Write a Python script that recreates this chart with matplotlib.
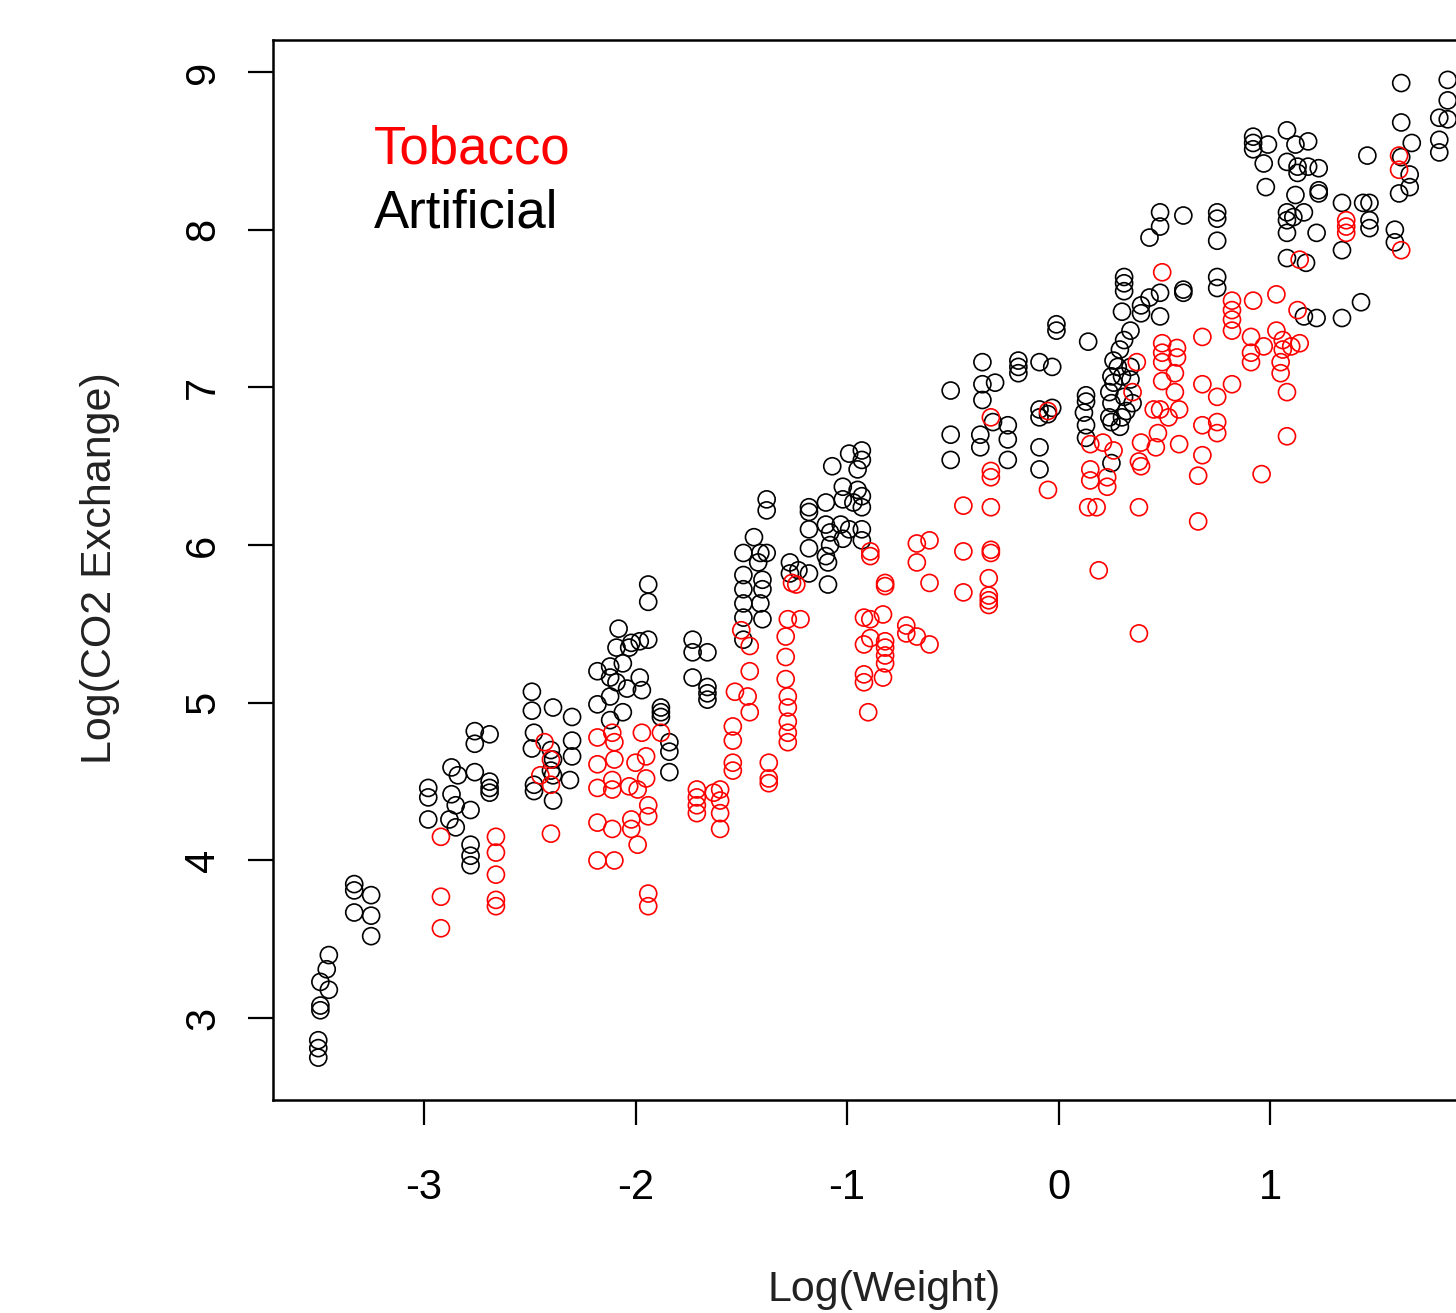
import matplotlib
matplotlib.use("Agg")
import matplotlib.pyplot as plt

plt.rcParams['font.family'] = ['Liberation Sans', 'DejaVu Sans']

# Artificial (black) points: log(weight), log(CO2 exchange)
art_x = [-3.45, -3.46, -3.49, -3.45, -3.49, -3.49, -3.50, -3.50, -3.50,
         -3.33, -3.33, -3.25, -3.33, -3.25, -3.25,
         -2.98, -2.98, -2.98, -2.87, -2.84, -2.76, -2.87, -2.85, -2.78, -2.88,
         -2.85, -2.69, -2.69, -2.69, -2.76, -2.69, -2.76, -2.78, -2.78, -2.78,
         -2.49, -2.49, -2.39, -2.30, -2.48, -2.49, -2.30, -2.30, -2.40, -2.39,
         -2.40, -2.39, -2.48, -2.48, -2.39, -2.31,
         -1.94, -1.94, -2.08, -2.09, -2.03, -2.02, -1.98, -1.94, -2.18, -2.12,
         -2.06, -2.12, -2.09, -1.98, -1.97, -2.04, -2.18, -2.12, -2.06, -2.12,
         -1.88, -1.88, -1.88, -1.84, -1.84, -1.84, -1.73, -1.66, -1.73, -1.73,
         -1.66, -1.66, -1.66,
         -1.49, -1.49, -1.49, -1.49, -1.49, -1.49, -1.44, -1.41, -1.38, -1.42,
         -1.40, -1.40, -1.41, -1.40, -1.38, -1.38,
         -1.07, -0.99, -0.93, -0.93, -0.95, -1.02, -0.95, -0.93, -1.18, -1.18,
         -1.10, -1.02, -0.97, -0.93, -1.18, -1.10, -1.08, -1.03, -0.99, -0.93,
         -1.18, -1.08, -1.02, -0.93, -1.10, -1.09, -1.09, -1.18, -1.27, -1.27,
         -1.23,
         -0.51, -0.51, -0.51, -0.36, -0.36, -0.36, -0.37, -0.37, -0.30, -0.31,
         -0.24, -0.24, -0.24, -0.19, -0.19, -0.19, -0.09, -0.03, -0.09, -0.09,
         -0.01, -0.01, -0.09, -0.09, -0.05, -0.03,
         0.13, 0.13, 0.12, 0.13, 0.13, 0.14, 0.26, 0.25, 0.30, 0.24,
         0.31, 0.25, 0.35, 0.32, 0.24, 0.30, 0.25, 0.29, 0.25, 0.34,
         0.26, 0.31, 0.31, 0.31, 0.43, 0.48, 0.39, 0.30, 0.39, 0.48,
         0.34, 0.31, 0.29, 0.28, 0.34, 0.59, 0.59,
         0.43, 0.48, 0.59, 0.48, 0.75, 0.75, 0.75, 0.75, 0.75, 1.43,
         1.34, 1.22, 1.16, 1.62, 1.84, 1.84, 1.80, 1.84, 1.80, 1.80,
         1.62, 1.67, 1.62, 1.66, 1.66, 1.61, 1.46, 0.92, 0.92, 0.92,
         0.99, 0.97, 1.08, 1.18, 1.12, 1.08, 1.13, 1.18, 1.23, 1.13,
         0.98, 1.12, 1.23, 1.23, 1.16, 1.08, 1.11, 1.08, 1.08, 1.22,
         1.34, 1.44, 1.47, 1.47, 1.47, 1.34, 1.59, 1.59, 1.08, 1.17]
art_y = [3.40, 3.31, 3.23, 3.18, 3.08, 3.05, 2.86, 2.81, 2.75,
         3.85, 3.81, 3.78, 3.67, 3.65, 3.52,
         4.46, 4.40, 4.26, 4.59, 4.54, 4.56, 4.42, 4.35, 4.32, 4.26,
         4.21, 4.50, 4.46, 4.43, 4.82, 4.80, 4.74, 4.10, 4.03, 3.97,
         5.07, 4.95, 4.97, 4.91, 4.81, 4.71, 4.76, 4.66, 4.70, 4.64,
         4.57, 4.54, 4.48, 4.44, 4.38, 4.51,
         5.75, 5.64, 5.47, 5.35, 5.35, 5.38, 5.39, 5.40, 5.20, 5.23,
         5.25, 5.16, 5.13, 5.16, 5.08, 5.09, 4.99, 5.04, 4.94, 4.89,
         4.97, 4.94, 4.91, 4.75, 4.69, 4.56, 5.40, 5.32, 5.32, 5.16,
         5.10, 5.06, 5.02,
         5.95, 5.81, 5.72, 5.63, 5.54, 5.40, 6.05, 5.95, 5.95, 5.89,
         5.78, 5.72, 5.63, 5.53, 6.29, 6.22,
         6.50, 6.58, 6.60, 6.54, 6.48, 6.37, 6.35, 6.31, 6.24, 6.21,
         6.27, 6.29, 6.27, 6.24, 6.10, 6.13, 6.08, 6.13, 6.10, 6.10,
         5.98, 6.00, 6.04, 6.03, 5.93, 5.89, 5.75, 5.82, 5.89, 5.82,
         5.84,
         6.98, 6.70, 6.54, 7.16, 7.02, 6.92, 6.70, 6.62, 7.03, 6.78,
         6.76, 6.67, 6.54, 7.17, 7.13, 7.09, 7.16, 7.13, 6.86, 6.81,
         7.36, 7.40, 6.62, 6.48, 6.83, 6.87,
         6.95, 6.91, 6.84, 6.76, 6.68, 7.29, 7.17, 7.07, 7.07, 6.97,
         6.94, 6.90, 6.90, 6.85, 6.81, 6.81, 6.78, 6.75, 6.52, 7.05,
         7.03, 7.70, 7.66, 7.61, 7.57, 7.60, 7.52, 7.48, 7.47, 7.45,
         7.36, 7.30, 7.24, 7.13, 7.13, 7.62, 7.60,
         7.95, 8.11, 8.09, 8.02, 8.11, 8.07, 7.93, 7.70, 7.63, 7.54,
         7.44, 7.44, 7.45, 8.93, 8.95, 8.82, 8.71, 8.70, 8.57, 8.49,
         8.68, 8.55, 8.46, 8.35, 8.27, 8.23, 8.47, 8.59, 8.55, 8.51,
         8.54, 8.42, 8.63, 8.56, 8.54, 8.43, 8.40, 8.40, 8.39, 8.36,
         8.27, 8.22, 8.25, 8.23, 8.11, 8.11, 8.08, 8.06, 7.98, 7.98,
         8.17, 8.17, 8.17, 8.06, 8.01, 7.87, 8.00, 7.92, 7.82, 7.79]

# Tobacco (red) points
tob_x = [-2.92, -2.92, -2.92, -2.66, -2.66, -2.66, -2.66, -2.66, -2.40, -2.43,
         -2.40, -2.45, -2.40,
         -2.18, -2.11, -2.10, -1.97, -1.88, -2.18, -2.10, -2.00, -1.95, -2.11,
         -2.18, -2.11, -2.03, -1.99, -1.95, -1.94, -1.94, -2.18, -2.11, -2.02,
         -2.02, -1.99, -2.18, -2.10, -1.94, -1.94,
         -1.71, -1.71, -1.71, -1.71, -1.60, -1.60, -1.60, -1.60, -1.63, -1.54,
         -1.54, -1.54, -1.54, -1.46, -1.46, -1.47, -1.53, -1.46, -1.37, -1.37,
         -1.37, -1.28, -1.22, -1.29, -1.29, -1.29, -1.28, -1.28, -1.28, -1.28,
         -1.28, -1.26, -1.24, -1.50,
         -0.89, -0.89, -0.82, -0.82, -0.92, -0.89, -0.83, -0.92, -0.89, -0.82,
         -0.82, -0.82, -0.82, -0.92, -0.92, -0.83, -0.90, -0.72, -0.72, -0.67,
         -0.61, -0.67, -0.61, -0.67, -0.61, -0.45, -0.45, -0.45, -0.32, -0.32,
         -0.32, -0.33, -0.33, -0.33, -0.33, -0.32, -0.32, -0.32,
         -0.05, 0.19, 0.38, 0.14, 0.18, 0.15, 0.15, 0.23, 0.23, 0.38,
         0.39, 0.38, 0.66, 0.68, 0.66, 0.75, 0.75, 0.68, 0.96, 1.08,
         1.08, 0.68, 0.82, 0.75, 0.39, 0.46, 0.47, 0.57, 0.48, 0.52,
         0.45, 0.57, 0.49, 0.55, 0.55, 0.35, 0.37, 0.49, 0.56, 0.49,
         0.56, 0.49, 0.49, 0.92, 1.03, 0.82, 0.82, 0.82, 0.82, 0.68,
         0.91, 0.91, 0.91, 0.97, 1.03, 1.06, 1.06, 1.05, 1.05, 1.10,
         1.14, 1.13, 0.21, 0.15, 0.26, -0.05, 1.61, 1.61, 1.36, 1.36,
         1.36, 1.62, 1.14]
tob_y = [4.15, 3.77, 3.57, 4.15, 4.05, 3.91, 3.75, 3.71, 4.17, 4.75,
         4.64, 4.54, 4.48,
         4.78, 4.81, 4.75, 4.81, 4.81, 4.61, 4.64, 4.62, 4.66, 4.51,
         4.46, 4.45, 4.47, 4.45, 4.52, 4.35, 4.28, 4.24, 4.20, 4.26,
         4.20, 4.10, 4.00, 4.00, 3.79, 3.71,
         4.45, 4.40, 4.35, 4.30, 4.45, 4.38, 4.30, 4.20, 4.43, 4.85,
         4.76, 4.62, 4.57, 5.36, 5.20, 5.04, 5.07, 4.94, 4.62, 4.52,
         4.49, 5.53, 5.53, 5.42, 5.29, 5.15, 5.04, 4.97, 4.88, 4.81,
         4.75, 5.76, 5.75, 5.46,
         5.96, 5.93, 5.76, 5.74, 5.54, 5.53, 5.56, 5.37, 5.41, 5.39,
         5.35, 5.30, 5.25, 5.18, 5.13, 5.16, 4.94, 5.49, 5.44, 5.42,
         5.37, 6.01, 6.03, 5.89, 5.76, 6.25, 5.96, 5.70, 6.24, 5.97,
         5.95, 5.79, 5.68, 5.65, 5.62, 6.47, 6.43, 6.81,
         6.35, 5.84, 5.44, 6.24, 6.24, 6.48, 6.41, 6.43, 6.37, 6.53,
         6.50, 6.24, 6.15, 6.57, 6.44, 6.78, 6.71, 6.76, 6.45, 6.69,
         6.97, 7.02, 7.02, 6.94, 6.65, 6.62, 6.71, 6.64, 6.86, 6.81,
         6.86, 6.86, 7.04, 6.97, 7.09, 6.97, 7.16, 7.28, 7.25, 7.22,
         7.19, 7.16, 7.73, 7.55, 7.59, 7.55, 7.49, 7.43, 7.36, 7.32,
         7.32, 7.22, 7.16, 7.26, 7.36, 7.30, 7.24, 7.16, 7.09, 7.26,
         7.28, 7.49, 6.65, 6.64, 6.60, 6.85, 8.47, 8.38, 8.06, 8.02,
         7.98, 7.87, 7.81]

x_ticks = [-3, -2, -1, 0, 1]
y_ticks = [3, 4, 5, 6, 7, 8, 9]

fig = plt.figure(figsize=(14.56, 13.13), dpi=100)
ax = fig.add_axes([273 / 1456, 213 / 1313, (1471 - 273) / 1456, 1060 / 1313])

ax.scatter(art_x, art_y, s=150, facecolors='none', edgecolors='black', linewidths=1.2)
ax.scatter(tob_x, tob_y, s=150, facecolors='none', edgecolors='red', linewidths=1.2)

ax.set_xlim(-3.714, 1.95)
ax.set_ylim(2.481, 9.203)

ax.set_xticks(x_ticks)
ax.set_xticklabels([str(t) for t in x_ticks])
ax.set_yticks(y_ticks)
ax.set_yticklabels([str(t) for t in y_ticks], rotation=90, va='center')

ax.tick_params(axis='both', direction='out', length=18, width=1.6,
               labelsize=30, colors='black')
ax.tick_params(axis='x', pad=31)
ax.tick_params(axis='y', pad=18)

for side in ['left', 'bottom', 'top', 'right']:
    ax.spines[side].set_linewidth(1.8)

fig.text(884 / 1456, 1 - 1290 / 1313, 'Log(Weight)', ha='center', va='center',
         fontsize=31, color='#222222')
fig.text(100 / 1456, 1 - 568 / 1313, 'Log(CO2 Exchange)', ha='center', va='center',
         fontsize=31, rotation=90, color='#222222')

fig.text(374 / 1456, 1 - 150 / 1313, 'Tobacco', ha='left', va='center',
         fontsize=38, color='red')
fig.text(374 / 1456, 1 - 214 / 1313, 'Artificial', ha='left', va='center',
         fontsize=38, color='black')

fig.savefig('out.png', dpi=100)
